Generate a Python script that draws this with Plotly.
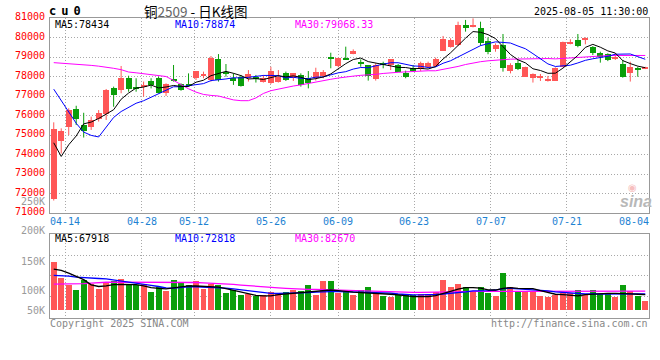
import plotly.graph_objects as go

# ---------------- data ----------------
dates = ["04-10","04-11","04-14","04-15","04-16","04-17","04-18","04-21","04-22","04-23",
         "04-24","04-25","04-28","04-29","04-30","05-06","05-07","05-08","05-09","05-12",
         "05-13","05-14","05-15","05-16","05-19","05-20","05-21","05-22","05-23","05-26",
         "05-27","05-28","05-29","05-30","06-03","06-04","06-05","06-06","06-09","06-10",
         "06-11","06-12","06-13","06-16","06-17","06-18","06-19","06-20","06-23","06-24",
         "06-25","06-26","06-27","06-30","07-01","07-02","07-03","07-04","07-07","07-08",
         "07-09","07-10","07-11","07-14","07-15","07-16","07-17","07-18","07-21","07-22",
         "07-23","07-24","07-25","07-28","07-29","07-30","07-31","08-01","08-04","08-05"]

open_ = [71720,74710,75430,76330,75530,75430,75800,76080,77390,77310,
         77940,77480,77445,77770,77940,77140,77830,77620,77590,77910,
         78060,77800,78880,78180,77910,77990,77910,77990,77740,77650,
         77740,78200,77910,78080,77910,77910,78030,78990,78540,78970,
         79140,78760,78590,77870,78680,78590,78590,78200,78450,78370,
         78470,78540,79330,79500,79620,80640,80560,80470,79820,79390,
         79620,78280,78710,77990,77910,77940,77790,77790,78470,79700,
         79870,79900,79500,79220,79140,78930,78640,78160,78420,78430]
high = [75650,75340,76370,76500,76140,75940,76280,77360,77480,78540,
        78040,77910,77740,77910,77990,77650,78590,77650,78160,78280,
        78250,79050,79150,78640,78160,78080,78330,78080,78080,78500,
        78330,78250,78160,78160,78280,78450,78330,79220,78970,79530,
        79390,78880,78590,78680,78760,78880,78640,78300,78590,78760,
        78760,78970,80080,79960,80810,80900,80980,80810,80010,79700,
        80180,78680,78850,78500,78160,78130,78030,78470,79790,79910,
        80180,80010,79560,79270,79190,79190,78850,78760,78500,78500]
low = [71640,74050,75000,75510,74870,75260,75690,75770,76450,77140,
       77220,77220,76970,77390,77140,77000,77740,77270,77480,77820,
       77910,77740,77740,77990,77570,77480,77740,77690,77690,77620,
       77690,77770,77770,77480,77390,77790,77910,78420,78470,78850,
       79140,78500,77790,77790,78420,78330,78250,77910,78250,78280,
       78420,78500,79310,79480,79560,80300,80520,79580,79140,79270,
       78250,78160,78330,77990,77690,77770,77740,77790,78470,79650,
       79500,79650,79100,78710,78790,78850,77940,77740,77990,78380]
close = [75310,75210,76280,75840,75220,75770,76130,77310,77050,77910,
         77360,77410,77565,77565,77170,77600,77800,77310,77550,78280,
         78100,78970,77820,78140,77790,77510,78110,77910,77910,78280,
         77990,77820,78160,77570,77650,78250,78250,78940,78970,78880,
         79320,78620,78030,78590,78590,78880,78250,77990,78280,78680,
         78710,78900,79920,79870,80640,80500,80590,79740,79270,79620,
         78420,78590,78390,78470,78110,77980,77870,78420,79750,79790,
         79580,79930,79190,79020,78850,79020,77990,78500,78370,78450]

ma5 = [74600,73900,74500,74950,75572,75664,75848,76054,76296,76834,
       77152,77408,77459,77562,77414,77462,77540,77489,77486,77708,
       77808,78042,78144,78262,78164,78046,77874,77892,77846,77944,
       78040,77982,78032,77964,77838,77890,77976,78132,78412,78658,
       78872,78946,78764,78688,78630,78542,78468,78460,78398,78416,
       78382,78512,78898,79216,79608,79966,80304,80268,80148,79944,
       79528,79128,78858,78698,78396,78308,78164,78170,78426,78762,
       79082,79494,79648,79502,79314,79202,78814,78662,78532,78452]
ma10 = [77350,76760,76200,75600,75150,74980,74900,75400,75900,76203,
        76408,76628,76757,76929,77124,77307,77474,77474,77524,77561,
        77635,77791,77817,77874,77936,77927,77958,78018,78054,78054,
        78043,77928,77962,77905,77891,77965,77979,78082,78188,78248,
        78381,78461,78448,78550,78644,78707,78707,78612,78543,78523,
        78462,78490,78679,78807,79012,79174,79408,79583,79682,79776,
        79747,79716,79563,79423,79170,78918,78646,78514,78562,78579,
        78695,78829,78909,78964,79038,79142,79154,79155,79017,78883]
ma30 = [78710,78690,78670,78640,78620,78570,78530,78490,78420,78350,
        78230,78190,78140,78100,78050,78000,77800,77580,77370,77200,
        77080,77030,77000,76900,76800,76760,76760,76900,77130,77273,
        77362,77449,77512,77569,77650,77733,77804,77858,77922,77954,
        78020,78060,78076,78110,78157,78200,78215,78237,78262,78275,
        78295,78293,78363,78421,78516,78615,78698,78759,78804,78849,
        78863,78889,78897,78927,78942,78933,78920,78903,78929,78959,
        78968,79012,79050,79065,79073,79078,79069,79084,79087,79079]

volume_k = [204,139,109,88,128,112,92,121,123,135,
            109,109,114,80,98,84,131,118,109,126,
            92,114,108,75,85,67,71,63,67,80,
            75,80,88,84,109,67,126,126,75,84,
            67,88,101,75,63,58,67,67,67,71,
            71,80,131,101,114,101,84,101,75,63,
            160,101,84,84,84,63,58,67,75,75,
            88,67,88,71,71,58,109,84,63,38]
vol_ma5 = [177,172,160,146,132,110,103,106,111,112,
           112,111,106,98,95,93,97,100,106,105,
           104,103,100,94,87,80,71,65,63,63,
           68,71,74,79,82,85,86,88,85,81,
           79,77,76,74,72,70,67,63,60,60,
           60,64,72,82,92,98,98,96,89,88,
           95,98,95,94,94,85,77,70,68,66,
           63,68,71,73,74,74,74,72,70,68]
vol_ma10 = [150,149,147,143,140,139,137,135,131,127,
            122,118,114,108,103,97,96,100,102,102,
            101,100,99,96,93,89,84,79,76,74,
            74,74,74,75,77,79,81,81,81,81,
            80,79,78,77,77,75,71,68,67,67,
            67,69,71,73,76,80,84,84,85,88,
            94,95,93,92,90,86,84,80,77,74,
            73,71,71,71,71,71,71,71,72,72]
vol_ma30 = [113,113,114,114,115,117,120,121,122,122,
            122,122,122,122,122,122,122,121,121,120,
            118,117,116,115,112,109,106,103,101,99,
            97,95,93,92,91,91,90,88,86,85,
            84,84,83,83,82,81,80,79,78,78,
            78,78,78,79,80,81,82,82,83,83,
            84,84,84,84,84,84,84,84,83,83,
            83,83,83,83,83,83,83,83,83,83]

price_ticks = [71000,72000,73000,74000,75000,76000,77000,78000,79000,80000,81000]
date_ticks = ["04-14","04-28","05-12","05-26","06-09","06-23","07-07","07-21","08-04"]
vol_labels = ["250K","200K","150K","100K","50K"]

title_code = "cu0"
title_text = "铜<span style='color:#666'>2509</span> - 日K线图"
stamp = "2025-08-05 11:30:00"
ma_price_labels = ["MA5:78434", "MA10:78874", "MA30:79068.33"]
ma_vol_labels = ["MA5:67918", "MA10:72818", "MA30:82670"]

# ---------------- layout / style ----------------
W, H = 660, 360
XL, XR = 50, 649
PT, PB = 18, 213
VT, VB = 234.3, 318
PX_PER_K = 0.235
VBASE = 310.7
RED, GREEN = "#ff5757", "#0a9e0a"
BLUE, MAG = "#0000ff", "#ff00ff"
GRID = "#a8a8a8"
BORDER = "#999999"
MONO = "DejaVu Sans Mono"

grid_px = [65.3, 141.7, 194.3, 270.7, 338.3, 414.0, 490.7, 566.7]
label_px = grid_px + [634.0]
n = len(dates)
slot = (XR - XL) / n
def px_to_idx(px):
    return (px - XL) / slot - 0.5
grid_idx = [px_to_idx(p) for p in grid_px]

idx = list(range(n))
up = [c >= o for o, c in zip(open_, close)]
MINH = 50

fig = go.Figure()

for flag, col in ((True, RED), (False, GREEN)):
    wx, wy = [], []
    for i in idx:
        if up[i] == flag:
            wx += [i, i, None]
            wy += [low[i], high[i], None]
    fig.add_trace(go.Scatter(x=wx, y=wy, mode="lines", line=dict(color=col, width=1),
                             xaxis="x", yaxis="y", hoverinfo="skip"))
for flag, col in ((True, RED), (False, GREEN)):
    bx = [i for i in idx if up[i] == flag]
    base = [min(open_[i], close[i]) for i in bx]
    hgt = [max(abs(close[i] - open_[i]), MINH) for i in bx]
    fig.add_trace(go.Bar(x=bx, y=hgt, base=base, width=0.8, marker=dict(color=col, line=dict(width=0)),
                         xaxis="x", yaxis="y", hoverinfo="skip"))
for arr, col in ((ma30, MAG), (ma10, BLUE), (ma5, "#000000")):
    fig.add_trace(go.Scatter(x=idx, y=arr, mode="lines", line=dict(color=col, width=1),
                             xaxis="x", yaxis="y", hoverinfo="skip"))

fig.add_trace(go.Bar(x=idx, y=volume_k, width=0.8,
                     marker=dict(color=[RED if u else GREEN for u in up], line=dict(width=0)),
                     xaxis="x2", yaxis="y2", hoverinfo="skip"))
for arr, col in ((vol_ma30, MAG), (vol_ma10, BLUE), (vol_ma5, "#000000")):
    fig.add_trace(go.Scatter(x=idx, y=arr, mode="lines", line=dict(color=col, width=1.3),
                             xaxis="x2", yaxis="y2", hoverinfo="skip"))

def ypaper(ypx):
    return 1 - ypx / H

vbot = -(VB - VBASE) / PX_PER_K
vtop = (VBASE - VT) / PX_PER_K
vgrid = [(VBASE - y) / PX_PER_K for y in (255.0, 275.7, 296.3)]

axis_common = dict(showline=True, mirror=True, linecolor=BORDER, linewidth=1, zeroline=False,
                   showticklabels=False, ticks="", gridcolor=GRID, griddash="1px,2px", gridwidth=1)
fig.update_layout(
    width=W, height=H, margin=dict(l=0, r=0, t=0, b=0),
    paper_bgcolor="white", plot_bgcolor="white", showlegend=False, hovermode=False,
    bargap=0,
    xaxis=dict(domain=[XL / W, XR / W], range=[-0.5, n - 0.5], tickvals=grid_idx, showgrid=True,
               anchor="y", **axis_common),
    yaxis=dict(domain=[ypaper(PB), ypaper(PT)], range=[price_ticks[0], price_ticks[-1]],
               tickvals=price_ticks, showgrid=True, anchor="x", **axis_common),
    xaxis2=dict(domain=[XL / W, XR / W], range=[-0.5, n - 0.5], tickvals=grid_idx, showgrid=True,
                anchor="y2", matches="x", **axis_common),
    yaxis2=dict(domain=[ypaper(VB), ypaper(VT)], range=[vbot, vtop], tickvals=vgrid,
                showgrid=True, anchor="x2", **axis_common),
)

ann = []
def txt(xpx, ypx, s, color, size=10, anchor="left", family=MONO, opacity=1.0):
    ann.append(dict(x=xpx / W, y=ypaper(ypx), xref="paper", yref="paper", text=s, showarrow=False,
                    xanchor=anchor, yanchor="middle", font=dict(family=family, size=size, color=color),
                    borderpad=0, opacity=opacity))

for v in price_ticks:
    ann.append(dict(x=46 / W, y=v, xref="paper", yref="y", text=str(v), showarrow=False,
                    xanchor="right", yanchor="middle", yshift=1.5, borderpad=0,
                    font=dict(family=MONO, size=10, color="#ff0000")))
for lab, p in zip(date_ticks, label_px):
    txt(p, 221.7, lab, "#1e82d2", anchor="center")
for lab, ypx in zip(vol_labels, (201, 230.7, 261, 290.7, 310.7)):
    txt(46, ypx, lab, "#9a9a9a", anchor="right")
# header
txt(48, 11, "<b><span style='letter-spacing:5px'>" + title_code + "</span></b>", "#000000",
    size=12, family=MONO)
txt(195, 10.5, title_text, "#000000", size=13.5, anchor="center", family="Noto Sans CJK SC")
txt(649, 12, stamp, "#000000", anchor="right")
for s, col, xp in zip(ma_price_labels, ("#000000", BLUE, MAG), (54, 174, 294)):
    txt(xp, 24.5, s, col)
for s, col, xp in zip(ma_vol_labels, ("#000000", BLUE, MAG), (54, 174, 294)):
    txt(xp, 238.5, s, col)
txt(49, 323.5, "Copyright 2025 SINA.COM", "#888888")
txt(649, 323.5, "http://finance.sina.com.cn", "#888888", anchor="right")
# sina watermark (logo + word)
txt(632, 187, "◉", "#f08080", size=10, anchor="center", family="DejaVu Sans", opacity=0.5)
txt(636, 201, "<b><i>sina</i></b>", "#b8b8b8", size=16, anchor="center", family="Liberation Sans")

fig.update_layout(annotations=ann)
fig.write_html("out.html", config={"displayModeBar": False},
               post_script="document.body.style.margin='0';document.body.style.padding='0';")
